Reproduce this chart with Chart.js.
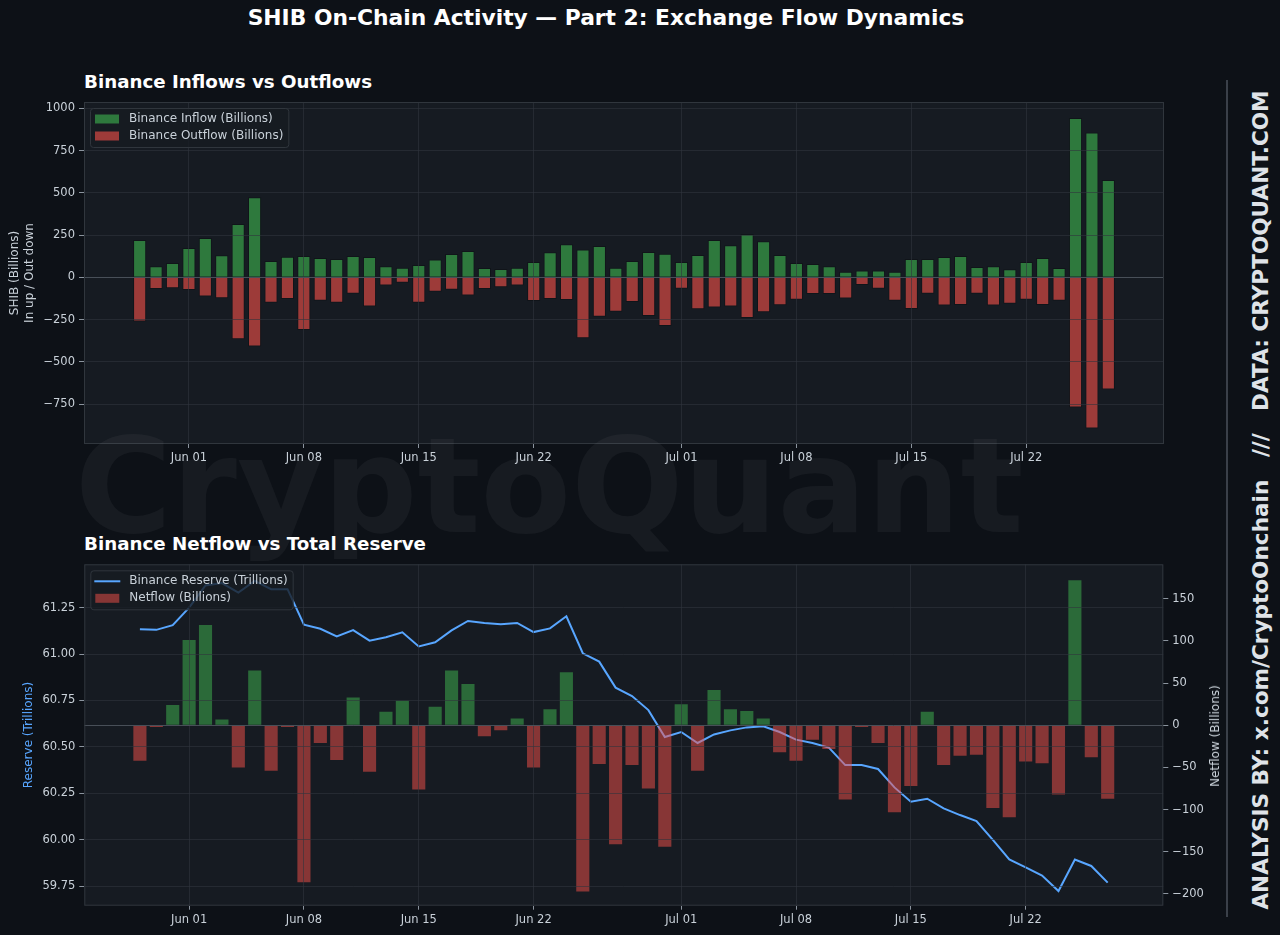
<!DOCTYPE html>
<html>
<head>
<meta charset="utf-8">
<title>SHIB On-Chain Activity — Part 2</title>
<script src="https://cdn.jsdelivr.net/npm/chart.js@4.4.1/dist/chart.umd.min.js"></script>
<style>
  html, body { margin: 0; padding: 0; }
  body {
    width: 1280px; height: 935px; overflow: hidden; position: relative;
    background: #0d1117; font-family: 'DejaVu Sans', sans-serif;
  }
  canvas { position: absolute; left: 0; }
  .txt { position: absolute; white-space: nowrap; }
  #mainTitle { left: 0; width: 1212px; top: 6px; text-align: center; color: #ffffff; font-weight: bold; font-size: 21.8px; line-height: 24px; }
  .subTitle { left: 84px; color: #ffffff; font-weight: bold; font-size: 18.25px; line-height: 22px; }
  #sideText { left: 1260px; top: 500px; transform: translate(-50%, -50%) rotate(-90deg); color: #dfe3e8; font-weight: bold; font-size: 21.6px; }
  #sideRule { position: absolute; left: 1226px; top: 80px; width: 2px; height: 837px; background: #3a4049; }
  #netTitle { left: 1215px; top: 736px; transform: translate(-50%, -50%) rotate(-90deg); color: #c9d1d9; font-size: 12px; }
  #watermark { left: 75px; top: 420px; font-size: 132px; line-height: 132px; font-weight: bold; color: rgba(255, 255, 255, 0.045); pointer-events: none; z-index: 5; }
</style>
</head>
<body>
<div id="mainTitle" class="txt">SHIB On-Chain Activity — Part 2: Exchange Flow Dynamics</div>
<div class="txt subTitle" style="top:71px">Binance Inflows vs Outflows</div>
<div class="txt subTitle" style="top:533px">Binance Netflow vs Total Reserve</div>

<canvas id="flowChart" width="1200" height="380" style="top:95px"></canvas>
<canvas id="netChart" width="1240" height="378" style="top:557px"></canvas>

<div id="netTitle" class="txt">Netflow (Billions)</div>
<div id="sideRule"></div>
<div id="sideText" class="txt">ANALYSIS BY: x.com/CryptoOnchain &nbsp; /// &nbsp; DATA: CRYPTOQUANT.COM</div>
<div id="watermark" class="txt">CryptoQuant</div>

<script>
'use strict';

// one entry per day
const days = [
  'May 29', 'May 30', 'May 31',
  'Jun 01', 'Jun 02', 'Jun 03', 'Jun 04', 'Jun 05', 'Jun 06', 'Jun 07', 'Jun 08', 'Jun 09', 'Jun 10',
  'Jun 11', 'Jun 12', 'Jun 13', 'Jun 14', 'Jun 15', 'Jun 16', 'Jun 17', 'Jun 18', 'Jun 19', 'Jun 20',
  'Jun 21', 'Jun 22', 'Jun 23', 'Jun 24', 'Jun 25', 'Jun 26', 'Jun 27', 'Jun 28', 'Jun 29', 'Jun 30',
  'Jul 01', 'Jul 02', 'Jul 03', 'Jul 04', 'Jul 05', 'Jul 06', 'Jul 07', 'Jul 08', 'Jul 09', 'Jul 10',
  'Jul 11', 'Jul 12', 'Jul 13', 'Jul 14', 'Jul 15', 'Jul 16', 'Jul 17', 'Jul 18', 'Jul 19', 'Jul 20',
  'Jul 21', 'Jul 22', 'Jul 23', 'Jul 24', 'Jul 25', 'Jul 26', 'Jul 27'
];
const tickDays = ['Jun 01', 'Jun 08', 'Jun 15', 'Jun 22', 'Jul 01', 'Jul 08', 'Jul 15', 'Jul 22'];
const flowTicks = [-750, -500, -250, 0, 250, 500, 750, 1000];

// SHIB billions
const inflow = [
  220, 65, 85, 173, 232, 130, 315, 473, 97, 122,
  126, 114, 108, 126, 120, 65, 57, 73, 106, 138,
  156, 55, 49, 57, 91, 148, 195, 164, 185, 57,
  97, 150, 140, 91, 132, 221, 189, 256, 213, 132,
  85, 79, 65, 33, 41, 41, 33, 108, 108, 120,
  126, 61, 65, 47, 91, 114, 55, 942, 857, 575
];
// plotted downward
const outflow = [
  -262, -69, -65, -75, -114, -124, -366, -410, -150, -128,
  -311, -138, -150, -97, -173, -49, -32, -150, -85, -73,
  -108, -69, -59, -49, -140, -128, -134, -361, -234, -203,
  -146, -229, -288, -67, -189, -179, -173, -240, -207, -165,
  -132, -98, -98, -126, -45, -67, -138, -187, -97, -167,
  -164, -97, -167, -156, -132, -164, -138, -770, -894, -664
];
const netflow = [
  -42, -2, 24, 101, 119, 7, -50, 65, -54, -2,
  -186, -21, -41, 33, -55, 16, 29, -76, 22, 65,
  49, -13, -6, 8, -50, 19, 63, -197, -46, -141,
  -47, -75, -144, 25, -54, 42, 19, 17, 8, -32,
  -42, -17, -28, -88, -2, -21, -103, -72, 16, -47,
  -36, -35, -98, -109, -43, -45, -82, 172, -38, -87
];
// SHIB trillions
const reserve = [
  61.133, 61.130, 61.155, 61.250, 61.369, 61.382, 61.331, 61.394, 61.349, 61.349,
  61.158, 61.136, 61.095, 61.129, 61.072, 61.090, 61.117, 61.041, 61.063, 61.127,
  61.178, 61.167, 61.160, 61.167, 61.118, 61.138, 61.203, 61.004, 60.959, 60.819,
  60.774, 60.698, 60.553, 60.580, 60.521, 60.567, 60.589, 60.605, 60.611, 60.580,
  60.539, 60.521, 60.496, 60.402, 60.402, 60.381, 60.282, 60.205, 60.221, 60.169,
  60.133, 60.101, 59.999, 59.894, 59.851, 59.807, 59.724, 59.894, 59.859, 59.769
];

const GREEN = 'rgba(63, 185, 80, 0.6)';
const RED = 'rgba(248, 81, 73, 0.6)';
const GREEN_SOFT = 'rgba(63, 185, 80, 0.5)';
const RED_SOFT = 'rgba(248, 81, 73, 0.5)';
const BLUE = '#58a6ff';
const TICK = '#c9d1d9';
const GRID = 'rgba(48, 54, 61, 0.6)';
const ZERO = '#484f58';
const TICKMARK = '#8b949e';

Chart.defaults.font.family = "'DejaVu Sans', sans-serif";
Chart.defaults.color = TICK;

const minus = v => (v < 0 ? '\u2212' + Math.abs(v) : String(v));
const points = arr => arr.map((v, i) => ({ x: i, y: v }));

// keep the plot box exactly where the layout padding puts it
function fixWidth(w) {
  return scale => {
    scale.width = w;
    scale.paddingTop = 0;
    scale.paddingBottom = 0;
  };
}
function fixHeight(h) {
  return scale => {
    scale.height = h;
    scale.paddingLeft = 0;
    scale.paddingRight = 0;
  };
}

// plot background + frame, like matplotlib axes
const plotFrame = {
  id: 'plotFrame',
  beforeDraw(chart) {
    const a = chart.chartArea;
    const c = chart.ctx;
    c.save();
    c.fillStyle = '#161b22';
    c.fillRect(a.left, a.top, a.width, a.height);
    c.restore();
  },
  afterDraw(chart) {
    const a = chart.chartArea;
    const c = chart.ctx;
    c.save();
    c.strokeStyle = '#30363d';
    c.lineWidth = 1;
    c.strokeRect(a.left + 0.5, a.top + 0.5, a.width - 1, a.height - 1);
    c.restore();
  }
};

// legend box in the upper left corner of the plot
const insideLegend = {
  id: 'insideLegend',
  afterDraw(chart, args, opts) {
    const a = chart.chartArea;
    const c = chart.ctx;
    const items = opts.items || [];
    c.save();
    c.font = "12px 'DejaVu Sans'";
    const tw = Math.max(...items.map(it => c.measureText(it.label).width));
    const x = a.left + 6;
    const y = a.top + 6;
    c.fillStyle = 'rgba(22, 27, 34, 0.8)';
    c.strokeStyle = '#30363d';
    c.lineWidth = 1;
    c.beginPath();
    c.roundRect(x + 0.5, y + 0.5, 39 + tw + 5, 39, 3);
    c.fill();
    c.stroke();
    items.forEach((it, i) => {
      const cy = y + 11 + i * 17;
      if (it.kind === 'line') {
        c.strokeStyle = it.color;
        c.lineWidth = 2;
        c.beginPath();
        c.moveTo(x + 4, cy);
        c.lineTo(x + 30, cy);
        c.stroke();
      } else {
        c.fillStyle = it.color;
        c.fillRect(x + 5, cy - 4.5, 24, 9);
      }
      c.fillStyle = TICK;
      c.textBaseline = 'middle';
      c.textAlign = 'left';
      c.fillText(it.label, x + 39, cy);
    });
    c.restore();
  }
};

function dateAxis(height) {
  return {
    type: 'linear',
    min: -3.39,
    max: 62.39,
    offset: false,
    afterBuildTicks: scale => {
      scale.ticks = tickDays.map(d => ({ value: days.indexOf(d) }));
    },
    afterFit: fixHeight(height),
    ticks: {
      autoSkip: false, maxRotation: 0, padding: 3,
      font: { size: 11.5 }, color: TICK,
      callback: v => days[v]
    },
    grid: { color: GRID, tickColor: TICKMARK, tickLength: 4, offset: false, z: 1 },
    border: { display: false }
  };
}

// top panel: inflows up, outflows down
new Chart(document.getElementById('flowChart'), {
  type: 'bar',
  data: {
    datasets: [
      {
        label: 'Binance Inflow (Billions)',
        data: points(inflow),
        backgroundColor: GREEN,
        borderColor: 'rgba(0, 0, 0, 0.25)',
        borderWidth: 1,
        grouped: false,
        categoryPercentage: 0.8,
        barPercentage: 1
      },
      {
        label: 'Binance Outflow (Billions)',
        data: points(outflow),
        backgroundColor: RED,
        borderColor: 'rgba(0, 0, 0, 0.25)',
        borderWidth: 1,
        grouped: false,
        categoryPercentage: 0.8,
        barPercentage: 1
      }
    ]
  },
  options: {
    responsive: false,
    animation: false,
    layout: { padding: { top: 7, right: 36, left: 0, bottom: 0 } },
    scales: {
      x: dateAxis(31),
      y: {
        min: -986,
        max: 1037,
        afterBuildTicks: scale => {
          scale.ticks = flowTicks.map(v => ({ value: v }));
        },
        afterFit: fixWidth(84),
        ticks: { padding: 4, font: { size: 11.5 }, color: TICK, callback: minus },
        grid: {
          z: 1, tickLength: 5, tickColor: TICKMARK,
          color: ctx => (ctx.tick && ctx.tick.value === 0 ? ZERO : GRID)
        },
        border: { display: false },
        title: {
          display: true,
          text: ['SHIB (Billions)', 'In up / Out down'],
          color: TICK,
          font: { size: 12 },
          padding: { top: 8, bottom: 0 }
        }
      }
    },
    plugins: {
      legend: { display: false },
      tooltip: { enabled: false },
      insideLegend: {
        items: [
          { label: 'Binance Inflow (Billions)', kind: 'bar', color: GREEN },
          { label: 'Binance Outflow (Billions)', kind: 'bar', color: RED }
        ]
      }
    }
  },
  plugins: [plotFrame, insideLegend]
});

// bottom panel: daily netflow bars over the reserve line
new Chart(document.getElementById('netChart'), {
  type: 'bar',
  data: {
    datasets: [
      {
        type: 'bar',
        label: 'Netflow (Billions)',
        data: points(netflow),
        yAxisID: 'yN',
        backgroundColor: netflow.map(v => (v >= 0 ? GREEN_SOFT : RED_SOFT)),
        borderWidth: 0,
        categoryPercentage: 0.8,
        barPercentage: 1,
        order: 0
      },
      {
        type: 'line',
        label: 'Binance Reserve (Trillions)',
        data: points(reserve),
        yAxisID: 'yR',
        borderColor: BLUE,
        borderWidth: 2,
        pointRadius: 0,
        tension: 0,
        order: 1
      }
    ]
  },
  options: {
    responsive: false,
    animation: false,
    layout: { padding: { top: 7.3, right: 26.7, left: 0, bottom: 0 } },
    scales: {
      x: dateAxis(29.3),
      yR: {
        position: 'left',
        min: 59.645,
        max: 61.483,
        afterFit: fixWidth(84.3),
        ticks: { stepSize: 0.25, includeBounds: false, padding: 4, font: { size: 11.5 }, color: TICK, callback: v => v.toFixed(2) },
        grid: { z: 1, tickLength: 5, tickColor: TICKMARK, color: GRID },
        border: { display: false },
        title: {
          display: true,
          text: 'Reserve (Trillions)',
          color: BLUE,
          font: { size: 12 },
          padding: { top: 22, bottom: 0 }
        }
      },
      yN: {
        position: 'right',
        min: -213.9,
        max: 190.9,
        afterFit: fixWidth(50),
        ticks: { stepSize: 50, includeBounds: false, padding: 4, font: { size: 11.5 }, color: TICK, callback: minus },
        grid: {
          z: 1, tickLength: 5, tickColor: TICKMARK,
          color: ctx => (ctx.tick && ctx.tick.value === 0 ? ZERO : 'rgba(0, 0, 0, 0)')
        },
        border: { display: false }
      }
    },
    plugins: {
      legend: { display: false },
      tooltip: { enabled: false },
      insideLegend: {
        items: [
          { label: 'Binance Reserve (Trillions)', kind: 'line', color: BLUE },
          { label: 'Netflow (Billions)', kind: 'bar', color: RED_SOFT }
        ]
      }
    }
  },
  plugins: [plotFrame, insideLegend]
});
</script>
</body>
</html>
